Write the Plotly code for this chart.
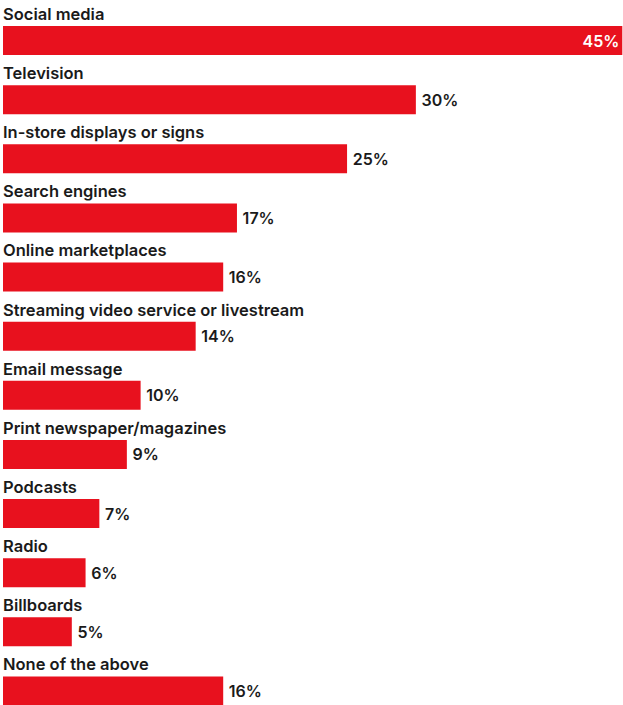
import plotly.graph_objects as go

categories = ["Social media", "Television", "In-store displays or signs", "Search engines",
              "Online marketplaces", "Streaming video service or livestream", "Email message",
              "Print newspaper/magazines", "Podcasts", "Radio", "Billboards", "None of the above"]
values = [45, 30, 25, 17, 16, 14, 10, 9, 7, 6, 5, 16]

RED = "#E8111E"
FONT = "Inter"
ypos = list(range(len(categories)))

positions = ["inside"] + ["outside"] * (len(values) - 1)
tcolors = ["white"] + ["#1a1a1a"] * (len(values) - 1)
texts = [f"{v}%" if i == 0 else f"\u2009{v}%" for i, v in enumerate(values)]

fig = go.Figure()
fig.add_trace(go.Bar(
    x=values, y=ypos, orientation="h", width=0.49,
    marker=dict(color=RED, line=dict(width=0)),
    text=texts, textposition=positions,
    insidetextanchor="end",
    textfont=dict(family=FONT, size=16, color=tcolors, weight=600),
    cliponaxis=False, hoverinfo="skip",
))

for i, c in enumerate(categories):
    fig.add_annotation(x=0, y=i - 0.45, xref="x", yref="y", text=c, showarrow=False,
                       xanchor="left", yanchor="middle", xshift=-2,
                       font=dict(family=FONT, size=16.5, color="#1a1a1a", weight=600))

fig.update_layout(
    width=623, height=705, margin=dict(l=3, r=0, t=0, b=0),
    paper_bgcolor="white", plot_bgcolor="white", showlegend=False,
    xaxis=dict(range=[0, 45.05], visible=False, fixedrange=True),
    yaxis=dict(range=[11.237, -0.685], visible=False, fixedrange=True),
    uniformtext=dict(mode=False),
)
fig.write_html("out.html")
